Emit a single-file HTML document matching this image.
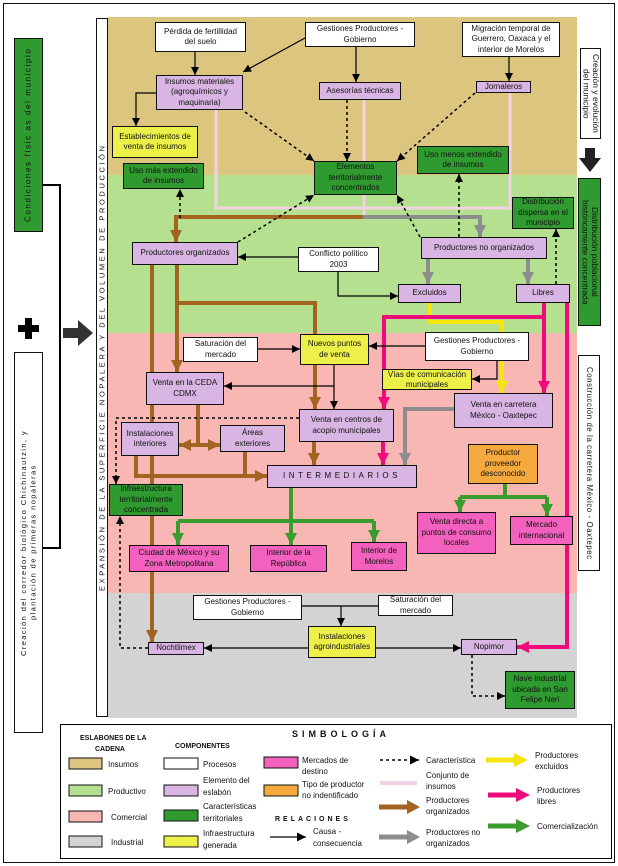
<!DOCTYPE html>
<html><head><meta charset="utf-8"><style>
*{margin:0;padding:0;box-sizing:border-box}
body{width:618px;height:866px;background:#fff;position:relative;overflow:hidden;font-family:"Liberation Sans",sans-serif;font-size:8px;color:#111}
.b{position:absolute;border:1px solid #111;display:flex;align-items:center;justify-content:center;text-align:center;line-height:1.3;font-size:8px;z-index:3;padding:0 1px}
.w{background:#fff}.p{background:#d9b5e3}.g{background:#2f9a2f}.y{background:#eef04a}.k{background:#f360bd}.o{background:#f6aa3e}
.band{position:absolute;left:108px;width:469px}
.vt{position:absolute;writing-mode:vertical-rl;display:flex;align-items:center;justify-content:center;text-align:center;font-size:8px;line-height:1.25;border:1px solid #111}
svg{position:absolute;left:0;top:0}
</style></head><body>
<div style="position:absolute;left:3px;top:3px;width:612px;height:860px;border:1.5px solid #111"></div>
<div class="band" style="top:17px;height:158px;background:#dcc57e"></div>
<div class="band" style="top:175px;height:158px;background:#b4e090"></div>
<div class="band" style="top:333px;height:260px;background:#f9b7b4"></div>
<div class="band" style="top:593px;height:125px;background:#d3d3d3"></div>
<div class="vt" style="left:96px;top:18px;width:12px;height:699px;background:#fff;transform:rotate(180deg);letter-spacing:2.6px;font-size:7.5px">EXPANSIÓN DE LA SUPERFICIE NOPALERA Y DEL VOLUMEN DE PRODUCCIÓN</div>
<div class="vt" style="left:14px;top:38px;width:29px;height:194px;background:#2f9a2f;transform:rotate(180deg);letter-spacing:1.6px">Condiciones físic as del municipio</div>
<div class="vt" style="left:14px;top:352px;width:29px;height:381px;background:#fff;transform:rotate(180deg);letter-spacing:1.4px;font-size:7.5px">Creación del corredor biológico Chichinautzin, y<br>plantación de primeras nopaleras</div>
<div class="vt" style="left:580px;top:48px;width:21px;height:91px;background:#fff;font-size:8.5px;line-height:1.1">Creación y evolución<br>del municipio</div>
<div class="vt" style="left:578px;top:178px;width:23px;height:148px;background:#2f9a2f;font-size:8.5px;line-height:1.1">Distribución poblacional<br>históricamente concentrada</div>
<div class="vt" style="left:578px;top:355px;width:22px;height:216px;background:#fff;font-size:7.8px;letter-spacing:0.6px;white-space:nowrap">Construcción de la carretera México - Oaxtepec</div>

<svg width="618" height="866" style="z-index:2">
<defs>
<marker id="a" viewBox="0 0 10 10" refX="10" refY="5" markerWidth="8" markerHeight="8" markerUnits="userSpaceOnUse" orient="auto"><path d="M0,0L10,5L0,10z" fill="#000"/></marker>
<marker id="br" viewBox="0 0 10 10" refX="10" refY="5" markerWidth="12" markerHeight="12" markerUnits="userSpaceOnUse" orient="auto"><path d="M0,0L10,5L0,10z" fill="#a36422"/></marker>
<marker id="gr" viewBox="0 0 10 10" refX="10" refY="5" markerWidth="12" markerHeight="12" markerUnits="userSpaceOnUse" orient="auto"><path d="M0,0L10,5L0,10z" fill="#8d8d8d"/></marker>
<marker id="pk" viewBox="0 0 10 10" refX="10" refY="5" markerWidth="12" markerHeight="12" markerUnits="userSpaceOnUse" orient="auto"><path d="M0,0L10,5L0,10z" fill="#ef0b7b"/></marker>
<marker id="ye" viewBox="0 0 10 10" refX="10" refY="5" markerWidth="12" markerHeight="12" markerUnits="userSpaceOnUse" orient="auto"><path d="M0,0L10,5L0,10z" fill="#f5e50a"/></marker>
<marker id="gn" viewBox="0 0 10 10" refX="10" refY="5" markerWidth="12" markerHeight="12" markerUnits="userSpaceOnUse" orient="auto"><path d="M0,0L10,5L0,10z" fill="#3a9b2f"/></marker>
</defs>
<g fill="none">
<g stroke="#f0d3e3" stroke-width="3"><path d="M216,110V208H510V92"/><path d="M364,100V217"/></g>
<g stroke="#a36422" stroke-width="4">
<path d="M363,217H176V242" marker-end="url(#br)"/>
<path d="M152,265V642" marker-end="url(#br)"/>
<path d="M177,265V372" marker-end="url(#br)"/>
<path d="M177,303H315V409" marker-end="url(#br)"/>
<path d="M198,405V445"/><path d="M198,445H179" marker-end="url(#br)"/><path d="M198,445H220" marker-end="url(#br)"/>
<path d="M136,456V476H267" marker-end="url(#br)"/><path d="M245,452V476"/>
<path d="M314,442V465" marker-end="url(#br)"/></g>
<g stroke="#8d8d8d" stroke-width="4">
<path d="M363,217H480V237" marker-end="url(#gr)"/>
<path d="M428,259V284" marker-end="url(#gr)"/><path d="M528,259V284" marker-end="url(#gr)"/>
<path d="M454,409H405V465" marker-end="url(#gr)"/></g>
<g stroke="#f5e50a" stroke-width="4"><path d="M430,303V322H502V393" marker-end="url(#ye)"/></g>
<g stroke="#ef0b7b" stroke-width="4">
<path d="M544,303V393" marker-end="url(#pk)"/>
<path d="M567,303V647H517" marker-end="url(#pk)"/>
<path d="M544,317H384V409" marker-end="url(#pk)"/>
<path d="M383,442V465" marker-end="url(#pk)"/></g>
<g stroke="#3a9b2f" stroke-width="4">
<path d="M291,488V545" marker-end="url(#gn)"/><path d="M178,521H374"/>
<path d="M178,521V545" marker-end="url(#gn)"/><path d="M374,521V542" marker-end="url(#gn)"/>
<path d="M505,484V497"/><path d="M460,497H547"/>
<path d="M460,497V512" marker-end="url(#gn)"/><path d="M547,497V516" marker-end="url(#gn)"/></g>
<g stroke="#000" stroke-width="1.2">
<path d="M195,52V75" marker-end="url(#a)"/>
<path d="M305,38L243,72" marker-end="url(#a)"/>
<path d="M356,47V82" marker-end="url(#a)"/>
<path d="M509,57V81" marker-end="url(#a)"/>
<path d="M156,93H136V126" marker-end="url(#a)"/>
<path d="M298,257H238" marker-end="url(#a)"/>
<path d="M338,272V296H398" marker-end="url(#a)"/>
<path d="M258,349H300" marker-end="url(#a)"/>
<path d="M425,346H369" marker-end="url(#a)"/>
<path d="M497,361V379H472" marker-end="url(#a)"/>
<path d="M334,365V409" marker-end="url(#a)"/>
<path d="M334,386H224" marker-end="url(#a)"/>
<path d="M302,606H378"/><path d="M341,606V626" marker-end="url(#a)"/>
<path d="M308,648H204" marker-end="url(#a)"/>
<path d="M376,648H461" marker-end="url(#a)"/></g>
<g stroke="#000" stroke-width="1.5" stroke-dasharray="3,3">
<path d="M245,112L314,161" marker-end="url(#a)"/>
<path d="M347,100V161" marker-end="url(#a)"/>
<path d="M475,93L397,161" marker-end="url(#a)"/>
<path d="M238,242L314,195" marker-end="url(#a)"/>
<path d="M420,237L397,195" marker-end="url(#a)"/>
<path d="M459,237V174" marker-end="url(#a)"/>
<path d="M180,218V189" marker-end="url(#a)"/>
<path d="M556,284V229" marker-end="url(#a)"/>
<path d="M299,418H116V484" marker-end="url(#a)"/>
<path d="M148,648H120V516" marker-end="url(#a)"/>
<path d="M472,655V696H505" marker-end="url(#a)"/></g>
<path d="M43,185H60V548H43" stroke="#000" stroke-width="2"/>
</g>
<polygon points="63,328 78,328 78,320 93,333 78,346 78,338 63,338" fill="#333"/>
<path d="M25,318h7v7h7v7h-7v7h-7v-7h-7v-7h7z" fill="#000"/>
<polygon points="585,148 595,148 595,158 601,158 590,172 579,158 585,158" fill="#222"/>
</svg>

<div class="b w" style="left:155px;top:22px;width:91px;height:30px">Pérdida de fertillidad<br>del suelo</div>
<div class="b w" style="left:305px;top:22px;width:110px;height:25px">Gestiones Productores -<br>Gobierno</div>
<div class="b w" style="left:462px;top:22px;width:98px;height:35px">Migración temporal de Guerrero, Oaxaca y el interior de Morelos</div>
<div class="b w" style="left:298px;top:247px;width:81px;height:25px">Conflicto político<br>2003</div>
<div class="b w" style="left:183px;top:337px;width:75px;height:25px">Saturación del<br>mercado</div>
<div class="b w" style="left:425px;top:332px;width:104px;height:29px">Gestiones Productores -<br>Gobierno</div>
<div class="b w" style="left:193px;top:595px;width:109px;height:25px">Gestiones Productores -<br>Gobierno</div>
<div class="b w" style="left:378px;top:595px;width:75px;height:21px">Saturación del<br>mercado</div>

<div class="b p" style="left:156px;top:75px;width:87px;height:35px">Insumos materiales (agroquímicos y maquinaria)</div>
<div class="b p" style="left:319px;top:82px;width:82px;height:18px">Asesorías técnicas</div>
<div class="b p" style="left:476px;top:81px;width:55px;height:12px">Jornaleros</div>
<div class="b p" style="left:132px;top:242px;width:106px;height:23px">Productores organizados</div>
<div class="b p" style="left:421px;top:237px;width:126px;height:22px">Productores no organizados</div>
<div class="b p" style="left:398px;top:284px;width:63px;height:19px">Excluidos</div>
<div class="b p" style="left:516px;top:284px;width:54px;height:19px">Libres</div>
<div class="b p" style="left:146px;top:372px;width:78px;height:33px">Venta en la CEDA<br>CDMX</div>
<div class="b p" style="left:454px;top:393px;width:99px;height:35px">Venta en carretera<br>México - Oaxtepec</div>
<div class="b p" style="left:299px;top:409px;width:95px;height:33px">Venta en centros de acopio municipales</div>
<div class="b p" style="left:121px;top:422px;width:58px;height:34px">Instalaciones interiores</div>
<div class="b p" style="left:220px;top:425px;width:65px;height:27px">Áreas<br>exteriores</div>
<div class="b p" style="left:267px;top:465px;width:150px;height:23px;letter-spacing:3.5px">INTERMEDIARIOS</div>
<div class="b p" style="left:148px;top:642px;width:56px;height:13px">Nochtlimex</div>
<div class="b p" style="left:461px;top:639px;width:56px;height:16px">Nopimor</div>

<div class="b g" style="left:314px;top:161px;width:83px;height:34px">Elementos territorialmente concentrados</div>
<div class="b g" style="left:417px;top:146px;width:92px;height:28px">Uso menos extendido de insumos</div>
<div class="b g" style="left:123px;top:163px;width:81px;height:26px">Uso más extendido<br>de insumos</div>
<div class="b g" style="left:512px;top:197px;width:62px;height:32px">Distribución dispersa en el municipio</div>
<div class="b g" style="left:109px;top:484px;width:74px;height:32px">Infraestructura territorialmente concentrada</div>
<div class="b g" style="left:505px;top:671px;width:70px;height:38px">Nave industrial ubicada en San Felipe Neri</div>

<div class="b y" style="left:112px;top:126px;width:86px;height:32px">Establecimientos de venta de insumos</div>
<div class="b y" style="left:300px;top:334px;width:69px;height:31px">Nuevos puntos<br>de venta</div>
<div class="b y" style="left:382px;top:369px;width:90px;height:21px;line-height:1.15">Vías de comunicación municipales</div>
<div class="b y" style="left:308px;top:626px;width:68px;height:32px">Instalaciones agroindustriales</div>

<div class="b k" style="left:129px;top:545px;width:100px;height:27px">Ciudad de México y su Zona Metropolitana</div>
<div class="b k" style="left:250px;top:545px;width:77px;height:27px">Interior de la<br>República</div>
<div class="b k" style="left:351px;top:542px;width:56px;height:29px">Interior de<br>Morelos</div>
<div class="b k" style="left:417px;top:512px;width:79px;height:42px">Venta directa a puntos de consumo locales</div>
<div class="b k" style="left:510px;top:516px;width:63px;height:29px">Mercado<br>internacional</div>
<div class="b o" style="left:468px;top:444px;width:70px;height:40px">Productor proveedor desconocido</div>

<svg width="618" height="866" style="z-index:4">
<defs><marker id="a2" viewBox="0 0 10 10" refX="10" refY="5" markerWidth="9" markerHeight="9" markerUnits="userSpaceOnUse" orient="auto"><path d="M0,0L10,5L0,10z" fill="#000"/></marker></defs>
<rect x="60.5" y="724.5" width="551" height="134" fill="#fff" stroke="#000" stroke-width="1"/>
<g font-family="Liberation Sans,sans-serif" font-size="8" fill="#111">
<text x="80" y="740" font-weight="bold" font-size="7">ESLABONES DE LA</text>
<text x="95" y="751" font-weight="bold" font-size="7">CADENA</text>
<text x="175" y="748" font-weight="bold" font-size="7">COMPONENTES</text>
<text x="292" y="737" font-weight="bold" font-size="9" letter-spacing="4">SIMBOLOGÍA</text>
<text x="275" y="821" font-weight="bold" font-size="7" letter-spacing="3">RELACIONES</text>
<g stroke="#111" stroke-width="1">
<rect x="69" y="758" width="33" height="11" fill="#dcc57e"/>
<rect x="69" y="785" width="33" height="11" fill="#b4e090"/>
<rect x="69" y="811" width="33" height="11" fill="#f9b7b4"/>
<rect x="69" y="836" width="33" height="11" fill="#d3d3d3"/>
<rect x="164" y="758" width="34" height="11" fill="#fff"/>
<rect x="164" y="785" width="34" height="11" fill="#d9b5e3"/>
<rect x="164" y="810" width="34" height="11" fill="#2f9a2f"/>
<rect x="164" y="836" width="34" height="11" fill="#eef04a"/>
<rect x="264" y="757" width="34" height="11" fill="#f360bd"/>
<rect x="264" y="785" width="34" height="11" fill="#f6aa3e"/>
</g>
<text x="108" y="767">Insumos</text><text x="108" y="794">Productivo</text><text x="111" y="820">Comercial</text><text x="111" y="845">Industrial</text>
<text x="203" y="767">Procesos</text>
<text x="203" y="783">Elemento del</text><text x="203" y="795">eslabón</text>
<text x="203" y="809">Características</text><text x="203" y="821">territoriales</text>
<text x="203" y="836">Infraestructura</text><text x="203" y="848">generada</text>
<text x="302" y="763">Mercados de</text><text x="302" y="774">destino</text>
<text x="302" y="787">Tipo de productor</text><text x="302" y="798">no indentificado</text>
<path d="M270,837H306" stroke="#000" stroke-width="1.2" marker-end="url(#a2)"/>
<text x="313" y="834">Causa -</text><text x="313" y="846">consecuencia</text>
<path d="M380,760H419" stroke="#000" stroke-width="1.5" stroke-dasharray="3,3" marker-end="url(#a2)"/>
<text x="426" y="763">Característica</text>
<path d="M380,783H417" stroke="#f0d3e3" stroke-width="4"/>
<text x="426" y="778">Conjunto de</text><text x="426" y="789">insumos</text>
<path d="M379,807H408" stroke="#a36422" stroke-width="5"/><polygon points="407,800 420,807 407,814" fill="#a36422"/>
<text x="426" y="803">Productores</text><text x="426" y="814">organizados</text>
<path d="M379,837H408" stroke="#8d8d8d" stroke-width="5"/><polygon points="407,830 420,837 407,844" fill="#8d8d8d"/>
<text x="426" y="835">Productores no</text><text x="426" y="846">organizados</text>
<path d="M486,760H515" stroke="#f5e50a" stroke-width="5"/><polygon points="514,753 528,760 514,767" fill="#f5e50a"/>
<text x="535" y="758">Productores</text><text x="535" y="769">excluidos</text>
<path d="M488,795H517" stroke="#ef0b7b" stroke-width="5"/><polygon points="516,788 530,795 516,802" fill="#ef0b7b"/>
<text x="537" y="793">Productores</text><text x="537" y="804">libres</text>
<path d="M488,826H517" stroke="#3a9b2f" stroke-width="5"/><polygon points="516,819 530,826 516,833" fill="#3a9b2f"/>
<text x="537" y="829">Comercialización</text>
</g>
</svg>
</body></html>
